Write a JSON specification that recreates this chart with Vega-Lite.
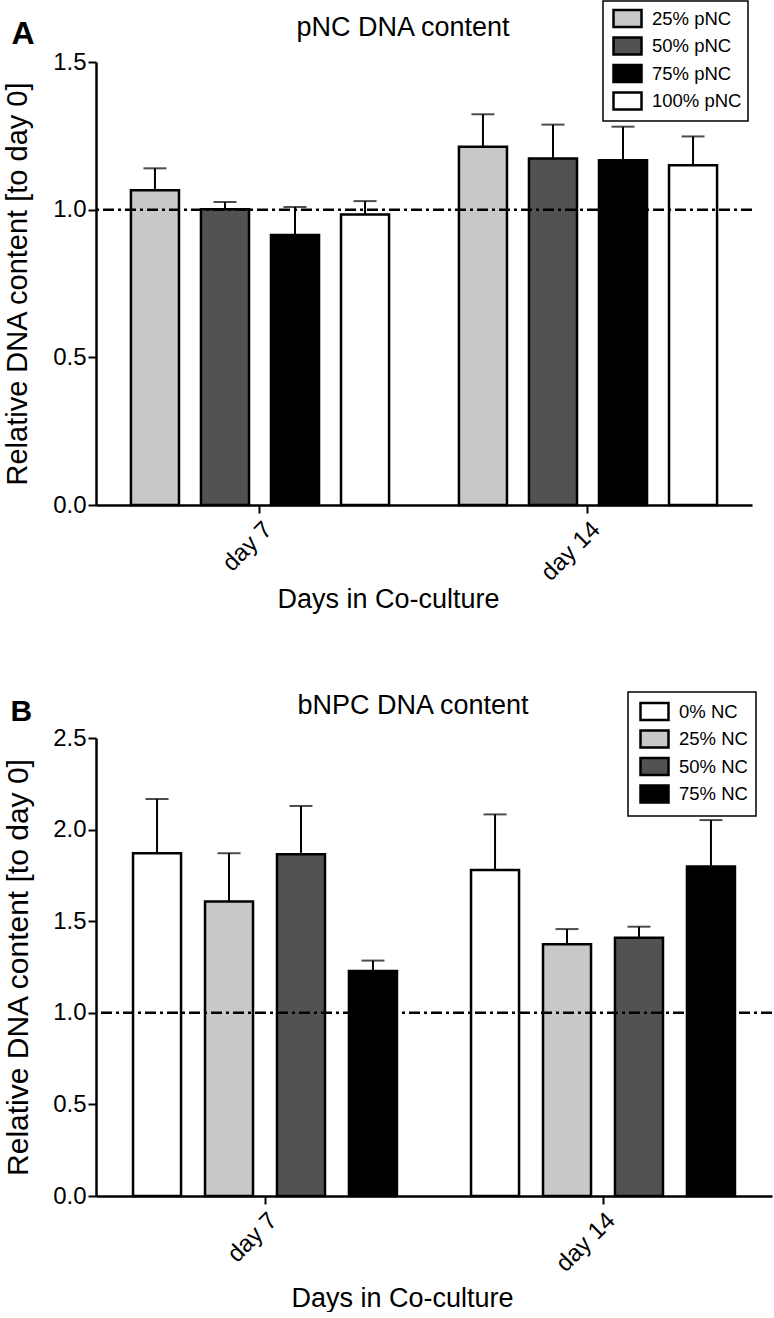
{
  "$schema": "https://vega.github.io/schema/vega-lite/v6.json",
  "description": "Relative DNA content of pNC and bNPC co-cultures at day 7 and day 14",
  "background": "white",
  "padding": {"left": 3, "top": 0, "right": 0, "bottom": 0},
  "datasets": {
    "pnc": [
      {"day": "day 7", "group": "25% pNC", "value": 1.066, "upper": 1.140},
      {"day": "day 7", "group": "50% pNC", "value": 1.001, "upper": 1.026},
      {"day": "day 7", "group": "75% pNC", "value": 0.914, "upper": 1.009},
      {"day": "day 7", "group": "100% pNC", "value": 0.984, "upper": 1.029},
      {"day": "day 14", "group": "25% pNC", "value": 1.213, "upper": 1.323},
      {"day": "day 14", "group": "50% pNC", "value": 1.173, "upper": 1.288},
      {"day": "day 14", "group": "75% pNC", "value": 1.167, "upper": 1.281},
      {"day": "day 14", "group": "100% pNC", "value": 1.150, "upper": 1.248}
    ],
    "bnpc": [
      {"day": "day 7", "group": "0% NC", "value": 1.871, "upper": 2.167},
      {"day": "day 7", "group": "25% NC", "value": 1.607, "upper": 1.871},
      {"day": "day 7", "group": "50% NC", "value": 1.865, "upper": 2.129},
      {"day": "day 7", "group": "75% NC", "value": 1.228, "upper": 1.285},
      {"day": "day 14", "group": "0% NC", "value": 1.780, "upper": 2.083},
      {"day": "day 14", "group": "25% NC", "value": 1.374, "upper": 1.457},
      {"day": "day 14", "group": "50% NC", "value": 1.410, "upper": 1.470},
      {"day": "day 14", "group": "75% NC", "value": 1.798, "upper": 2.052}
    ]
  },
  "spacing": 78,
  "vconcat": [
    {
      "data": {"name": "pnc"},
      "width": 656,
      "height": 443,
      "title": {"text": "pNC DNA content", "dx": -21, "offset": -42},
      "resolve": {"axis": {"x": "independent"}},
      "layer": [
        {
          "mark": {"type": "bar", "stroke": "black", "strokeWidth": 2.5},
          "encoding": {
            "x": {
              "field": "day", "type": "nominal", "sort": ["day 7", "day 14"],
              "scale": {"paddingInner": 0.146, "paddingOuter": 0.073},
              "axis": {"orient": "bottom", "title": "Days in Co-culture", "labelAngle": -45, "labelPadding": 4, "labelFontSize": 24, "titleX": 292, "titlePadding": 2}
            },
            "xOffset": {
              "field": "group", "type": "nominal",
              "scale": {"domain": ["25% pNC", "50% pNC", "75% pNC", "100% pNC"], "paddingInner": 0.314, "paddingOuter": 0.157}
            },
            "y": {
              "field": "value", "type": "quantitative",
              "scale": {"domain": [0, 1.5], "nice": false},
              "axis": {"values": [0, 0.5, 1, 1.5], "format": ".1f", "title": "Relative DNA content [to day 0]", "titleFontSize": 29, "titlePadding": 20}
            },
            "color": {
              "field": "group", "type": "nominal",
              "scale": {"domain": ["25% pNC", "50% pNC", "75% pNC", "100% pNC"], "range": ["#c8c8c8", "#525252", "#000000", "#ffffff"]},
              "legend": {"orient": "none", "legendX": 507, "legendY": -61, "title": null, "padding": 6}
            }
          }
        },
        {
          "mark": {"type": "rule", "color": "black", "strokeWidth": 2},
          "encoding": {
            "x": {
              "field": "day", "type": "nominal", "sort": ["day 7", "day 14"],
              "axis": {"orient": "top", "title": "A", "labels": false, "ticks": false, "domain": false, "titleAnchor": "start", "titleAlign": "left", "titleX": -85, "titleY": -19, "titleFontSize": 32, "titleFontWeight": "bold", "titleBaseline": "alphabetic"}
            },
            "xOffset": {"field": "group", "type": "nominal"},
            "y": {"field": "value", "type": "quantitative", "scale": {"domain": [0, 1.5], "nice": false}},
            "y2": {"field": "upper"}
          }
        },
        {
          "mark": {"type": "tick", "color": "black", "thickness": 2, "size": 23},
          "encoding": {
            "x": {"field": "day", "type": "nominal", "sort": ["day 7", "day 14"], "axis": null},
            "xOffset": {"field": "group", "type": "nominal"},
            "y": {"field": "upper", "type": "quantitative", "scale": {"domain": [0, 1.5], "nice": false}}
          }
        },
        {
          "data": {"values": [{"ref": 1}]},
          "mark": {"type": "rule", "color": "black", "strokeWidth": 2.5, "strokeDash": [11, 4, 3, 4]},
          "encoding": {"y": {"field": "ref", "type": "quantitative", "scale": {"domain": [0, 1.5], "nice": false}}}
        }
      ]
    },
    {
      "data": {"name": "bnpc"},
      "width": 676,
      "height": 458,
      "title": {"text": "bNPC DNA content", "dx": -21, "offset": -29},
      "resolve": {"axis": {"x": "independent"}},
      "layer": [
        {
          "mark": {"type": "bar", "stroke": "black", "strokeWidth": 2.5},
          "encoding": {
            "x": {
              "field": "day", "type": "nominal", "sort": ["day 7", "day 14"],
              "scale": {"paddingInner": 0.148, "paddingOuter": 0.074},
              "axis": {"orient": "bottom", "title": "Days in Co-culture", "labelAngle": -45, "labelPadding": 4, "labelFontSize": 24, "titleX": 306, "titlePadding": 10}
            },
            "xOffset": {
              "field": "group", "type": "nominal",
              "scale": {"domain": ["0% NC", "25% NC", "50% NC", "75% NC"], "paddingInner": 0.333, "paddingOuter": 0.167}
            },
            "y": {
              "field": "value", "type": "quantitative",
              "scale": {"domain": [0, 2.5], "nice": false},
              "axis": {"values": [0, 0.5, 1, 1.5, 2, 2.5], "format": ".1f", "title": "Relative DNA content [to day 0]", "titleFontSize": 30, "titlePadding": 19}
            },
            "color": {
              "field": "group", "type": "nominal",
              "scale": {"domain": ["0% NC", "25% NC", "50% NC", "75% NC"], "range": ["#ffffff", "#c8c8c8", "#525252", "#000000"]},
              "legend": {"orient": "none", "legendX": 532, "legendY": -46, "title": null, "padding": 8}
            }
          }
        },
        {
          "mark": {"type": "rule", "color": "black", "strokeWidth": 2},
          "encoding": {
            "x": {
              "field": "day", "type": "nominal", "sort": ["day 7", "day 14"],
              "axis": {"orient": "top", "title": "B", "labels": false, "ticks": false, "domain": false, "titleAnchor": "start", "titleAlign": "left", "titleX": -86, "titleY": -18, "titleFontSize": 30, "titleFontWeight": "bold", "titleBaseline": "alphabetic"}
            },
            "xOffset": {"field": "group", "type": "nominal"},
            "y": {"field": "value", "type": "quantitative", "scale": {"domain": [0, 2.5], "nice": false}},
            "y2": {"field": "upper"}
          }
        },
        {
          "mark": {"type": "tick", "color": "black", "thickness": 2, "size": 23},
          "encoding": {
            "x": {"field": "day", "type": "nominal", "sort": ["day 7", "day 14"], "axis": null},
            "xOffset": {"field": "group", "type": "nominal"},
            "y": {"field": "upper", "type": "quantitative", "scale": {"domain": [0, 2.5], "nice": false}}
          }
        },
        {
          "data": {"values": [{"ref": 1}]},
          "mark": {"type": "rule", "color": "black", "strokeWidth": 2.5, "strokeDash": [11, 4, 3, 4]},
          "encoding": {"y": {"field": "ref", "type": "quantitative", "scale": {"domain": [0, 2.5], "nice": false}}}
        }
      ]
    }
  ],
  "resolve": {
    "scale": {"color": "independent", "x": "independent", "y": "independent", "xOffset": "independent"},
    "legend": {"color": "independent"}
  },
  "config": {
    "font": "Liberation Sans",
    "view": {"stroke": null},
    "axis": {
      "grid": false,
      "domainColor": "black", "domainWidth": 2.5,
      "tickColor": "black", "tickWidth": 2, "tickSize": 8,
      "labelColor": "black", "labelFontSize": 24,
      "titleColor": "black", "titleFontSize": 27, "titleFontWeight": "normal"
    },
    "title": {"fontSize": 27, "fontWeight": "normal", "color": "black"},
    "legend": {
      "symbolType": "M-0.7,-0.85H2.1V0.85H-0.7Z",
      "symbolSize": 400,
      "symbolStrokeColor": "black",
      "symbolStrokeWidth": 2.5,
      "symbolOpacity": 1,
      "labelFontSize": 18.5,
      "labelColor": "black",
      "labelOffset": 20,
      "rowPadding": 0.5,
      "strokeColor": "black",
      "strokeWidth": 1.5,
      "fillColor": "white"
    }
  }
}
